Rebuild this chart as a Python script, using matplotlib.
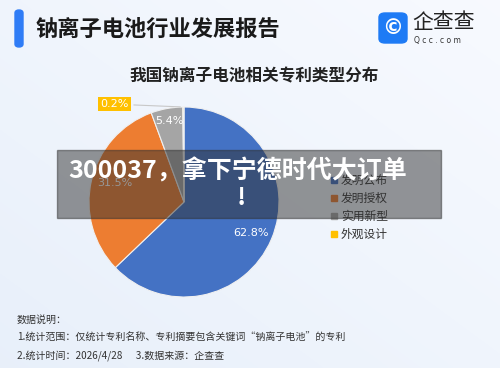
import matplotlib
matplotlib.use("Agg")
import matplotlib.pyplot as plt
import numpy as np
from matplotlib.patches import FancyBboxPatch, Rectangle

plt.rcParams["font.family"] = ["Noto Sans CJK SC", "DejaVu Sans"]

# ---------------------------------------------------------------------------
# Data
# ---------------------------------------------------------------------------
categories = ["发明公布", "发明授权", "实用新型", "外观设计"]
shares = [62.8, 31.5, 5.4, 0.2]
colors = ["#4472C4", "#ED7D31", "#A5A5A5", "#FFC000"]

report_title = "钠离子电池行业发展报告"
chart_title = "我国钠离子电池相关专利类型分布"
banner_text = "300037，拿下宁德时代大订单"
notes = [
    "数据说明：",
    "1.统计范围：仅统计专利名称、专利摘要包含关键词“钠离子电池”的专利",
    "2.统计时间：2026/4/28      3.数据来源：企查查",
]

W, H = 500, 368
fig = plt.figure(figsize=(W / 100, H / 100), dpi=100)


def fx(px):
    return px / W


def fy(py):
    return 1 - py / H


# background gradient
bg = fig.add_axes([0, 0, 1, 1])
grad = np.linspace(0, 1, 256)
xx, yy = np.meshgrid(grad, grad)
val = 0.5 * xx + 0.5 * (1 - yy)
base = np.array([0.91, 0.94, 0.98])
top = np.array([0.97, 0.98, 1.0])
img = base[None, None, :] * (1 - val[..., None]) + top[None, None, :] * val[..., None]
bg.imshow(img, aspect="auto", extent=[0, 1, 0, 1])
bg.set_xlim(0, 1)
bg.set_ylim(0, 1)
bg.axis("off")

# header
fig.patches.append(FancyBboxPatch((fx(15), fy(47)), fx(8), 37 / H,
                                  boxstyle="round,pad=0,rounding_size=0.008",
                                  transform=fig.transFigure, color="#2F7CF6"))
fig.text(fx(36), fy(29), report_title, fontsize=16, fontweight="bold",
         color="#1a1a1a", va="center")

# logo
fig.patches.append(FancyBboxPatch((fx(379), fy(43)), fx(28), 30 / H,
                                  boxstyle="round,pad=0,rounding_size=0.012",
                                  transform=fig.transFigure, color="#1E7BF5"))
fig.text(fx(393), fy(28), "©", fontsize=15, color="white",
         ha="center", va="center", family="DejaVu Sans", fontweight="bold")
fig.text(fx(412), fy(22), "企查查", fontsize=15, color="#222222", va="center")
fig.text(fx(414), fy(40), "Q c c . c o m", fontsize=5.5, color="#333333",
         va="center", family="DejaVu Sans")

# chart title
fig.text(fx(254), fy(76), chart_title, fontsize=12, fontweight="bold",
         color="#222222", ha="center", va="center")

# pie
cx, cy, r = 184, 202, 95
ax = fig.add_axes([fx(cx - r), fy(cy + r), 2 * r / W, 2 * r / H])
wedges, _ = ax.pie(shares, colors=colors, startangle=90, counterclock=False,
                   wedgeprops=dict(edgecolor="#f0f0f0", linewidth=0.8))
ax.set_aspect("auto")
ax.set_xlim(-1, 1)
ax.set_ylim(-1, 1)

# labels inside slices
label_pos = [(0.70, -0.33), (-0.73, 0.20), (-0.15, 0.85)]
for (lx, ly), s in zip(label_pos, shares[:3]):
    ax.text(lx, ly, f"{s}%", color="white", fontsize=8,
            ha="center", va="center", family="DejaVu Sans")

# tiny slice label with leader line
ax.annotate(f"{shares[3]}%", xy=(-0.01, 1.0), xytext=(-0.73, 1.03),
            fontsize=8, color="white", ha="center", va="center",
            family="DejaVu Sans",
            bbox=dict(boxstyle="square,pad=0.2", fc=colors[3], ec="none"),
            arrowprops=dict(arrowstyle="-", color="#c8c8c8", lw=0.8),
            annotation_clip=False)

# legend
for i, (name, c) in enumerate(zip(categories, colors)):
    ly = 180 + i * 18
    fig.patches.append(Rectangle((fx(331), fy(ly + 3)), fx(6), 6 / H,
                                 transform=fig.transFigure, color=c))
    fig.text(fx(341), fy(ly), name, fontsize=8.5, color="#333333", va="center")

# footer notes
for i, line in enumerate(notes):
    fig.text(fx(17), fy(320 + i * 18), line, fontsize=7.2, color="#333333",
             va="center")

# overlay banner
fig.patches.append(Rectangle((fx(57), fy(218)), fx(384), 68 / H,
                             transform=fig.transFigure, color="#303030",
                             alpha=0.5, zorder=5))
fig.text(fx(238), fy(171), banner_text, fontsize=18, fontweight="bold",
         color="white", ha="center", va="center", zorder=6)
fig.text(fx(241), fy(198), "!", fontsize=18, fontweight="bold",
         color="white", ha="center", va="center", zorder=6)

fig.savefig("out.png", dpi=100)
